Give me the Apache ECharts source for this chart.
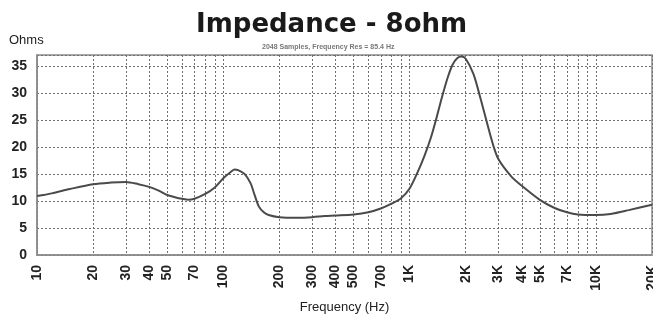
<!DOCTYPE html>
<html>
<head>
<meta charset="utf-8">
<script src="https://cdn.jsdelivr.net/npm/echarts@6/dist/echarts.min.js"></script>
<style>
  html, body { margin: 0; padding: 0; background: #fff; }
  #chart { width: 653px; height: 316px; }
</style>
</head>
<body>
<div id="chart"></div>
<script>
// frequency (Hz) / impedance (ohm)
const freqs = [10, 12, 15, 20, 25, 30, 35, 40, 45, 50, 55, 60, 65, 70, 80, 90, 100, 110, 115, 120, 130, 140, 145, 155, 165, 175, 200, 250, 300, 350, 400, 500, 600, 700, 800, 900,
  1000, 1100, 1200, 1300, 1400, 1500, 1600, 1700, 1800, 1900, 2000, 2200, 2400, 2600, 2800, 3000, 3500, 4000, 5000, 6000, 7000, 8000, 10000, 12000, 15000, 20000]
const ohms = [10.9, 11.4, 12.2, 13.1, 13.4, 13.5, 13.1, 12.6, 11.9, 11.1, 10.7, 10.4, 10.2, 10.4, 11.3, 12.5, 14.2, 15.4, 15.8, 15.7, 15.0, 13.3, 11.8, 9.0, 7.9, 7.4, 7.0, 6.9, 7.0, 7.2, 7.3, 7.5, 7.9, 8.6, 9.5, 10.5,
  12.3, 15.2, 18.3, 21.7, 25.6, 29.5, 32.8, 35.2, 36.4, 36.7, 36.3, 33.5, 29.0, 24.5, 20.5, 17.7, 14.6, 12.8, 10.2, 8.7, 7.9, 7.5, 7.4, 7.6, 8.3, 9.3]

// grid lines and labelled ticks on the frequency axis
const gridFreqs = [10, 20, 30, 40, 50, 60, 70, 80, 90, 100, 200, 300, 400, 500, 600, 700, 800, 900,
  1000, 2000, 3000, 4000, 5000, 6000, 7000, 8000, 9000, 10000, 20000]
const labelFreqs = [10, 20, 30, 40, 50, 70, 100, 200, 300, 400, 500, 700, 1000, 2000, 3000, 4000, 5000, 7000, 10000, 20000]
const ohmTicks = [0, 5, 10, 15, 20, 25, 30, 35]

const lg = (f) => Math.log10(f)

function freqLabel(v) {
  const f = Math.round(Math.pow(10, v))
  return f >= 1000 ? (f / 1000) + 'K' : String(f)
}

const chart = echarts.init(document.getElementById('chart'))

chart.setOption({
  backgroundColor: '#fff',
  animation: false,
  title: [
    {
      text: 'Impedance - 8ohm',
      left: 191, top: 7,
      textStyle: { fontFamily: 'DejaVu Sans', fontWeight: 'bold', fontSize: 26, color: '#1a1a1a' },
    },
    {
      text: '2048 Samples, Frequency Res = 85.4 Hz',
      left: 257, top: 39,
      textStyle: { fontFamily: 'Liberation Sans', fontWeight: 'bold', fontSize: 7, color: '#777' },
    },
    {
      text: 'Ohms',
      left: 4, top: 29,
      textStyle: { fontFamily: 'Liberation Sans', fontWeight: 'normal', fontSize: 13, color: '#222' },
    },
  ],
  grid: {
    left: 37, right: 1, top: 55, bottom: 61,
    outerBoundsMode: 'none',
    show: true, borderColor: '#8c8c8c', borderWidth: 1.5, backgroundColor: '#fff',
  },
  xAxis: {
    type: 'value',
    min: lg(10),
    max: lg(20000),
    name: 'Frequency (Hz)',
    nameLocation: 'middle',
    nameGap: 46,
    nameTextStyle: { fontFamily: 'Liberation Sans', fontSize: 13, color: '#222' },
    axisLine: { show: true, lineStyle: { color: '#8c8c8c', width: 1.5 } },
    axisTick: { show: false, customValues: gridFreqs.map(lg) },
    axisLabel: {
      customValues: labelFreqs.map(lg),
      formatter: freqLabel,
      rotate: 90,
      margin: 10,
      fontFamily: 'Liberation Sans', fontWeight: 'bold', fontSize: 14, color: '#222',
    },
    splitLine: { show: true, lineStyle: { color: '#6f6f6f', width: 1, type: [2, 2] } },
  },
  yAxis: {
    type: 'value',
    min: 0,
    max: 37,
    interval: 5,
    axisLine: { show: true, lineStyle: { color: '#8c8c8c', width: 1.5 } },
    axisTick: { show: false },
    axisLabel: {
      customValues: ohmTicks,
      margin: 10,
      fontFamily: 'Liberation Sans', fontWeight: 'bold', fontSize: 14, color: '#222',
    },
    splitLine: { show: true, lineStyle: { color: '#6f6f6f', width: 1, type: [2, 2] } },
  },
  series: [{
    type: 'line',
    data: freqs.map((f, i) => [lg(f), ohms[i]]),
    smooth: 0.3,
    showSymbol: false,
    lineStyle: { color: '#4a4a4a', width: 2 },
  }],
})
</script>
</body>
</html>
